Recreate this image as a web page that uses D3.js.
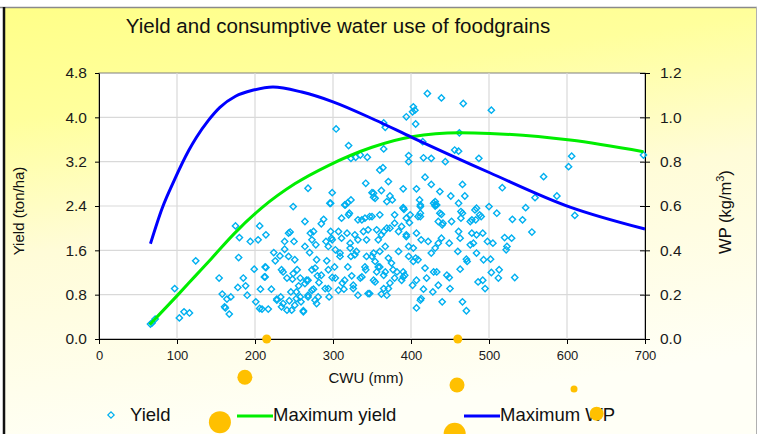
<!DOCTYPE html>
<html>
<head>
<meta charset="utf-8">
<script src="https://cdn.jsdelivr.net/npm/d3@7"></script>
<style>
  body { margin: 0; background: #fff; }
  svg { display: block; font-family: "Liberation Sans", Arial, sans-serif; }
</style>
</head>
<body>
<svg id="chart" width="757" height="434"></svg>
<script>
/* Yield vs consumptive water use (CWU) of foodgrains.
   Scatter of observed yields plus two fitted envelopes:
   maximum yield (left axis) and maximum water productivity (right axis). */
const WIDTH = 757;
const HEIGHT = 434;
const PLOT = {left: 99, right: 645, top: 73, bottom: 339};
const colors = {
    yield: '#00b0f0',
    maxYield: '#00ee00',
    maxWp: '#0000ff',
    grid: '#d9d9d9',
    dot: '#ffc000'
};

const xTicks = [0, 100, 200, 300, 400, 500, 600, 700];
const yieldTicks = [0, 0.8, 1.6, 2.4, 3.2, 4.0, 4.8];
const wpTicks = [0, 0.2, 0.4, 0.6, 0.8, 1.0, 1.2];

// observed [CWU mm, yield ton/ha]
const yieldObs = [
    [66,0.27],[68,0.29],[72,0.36],[97,0.91],[103,0.38],[109,0.49],[116,0.47],[124,1.41],
    [154,1.10],[158,0.81],[161,0.58],[162,0.56],[164,0.72],[167,0.45],[169,0.76],[175,2.04],
    [179,1.47],[180,1.83],[178,0.93],[185,1.10],[188,0.96],[190,0.79],[194,1.76],[199,1.26],
    [201,0.67],[204,1.79],[206,2.04],[207,0.90],[209,0.54],[212,1.12],[214,1.29],[214,1.88],
    [217,0.54],[221,0.90],[224,1.56],[226,1.41],[228,0.72],[232,1.50],[233,0.76],[234,0.58],
    [236,1.21],[238,1.62],[238,1.76],[241,0.52],[243,1.91],[244,0.69],[246,0.85],[248,1.08],
    [249,2.39],[250,1.76],[251,1.43],[253,0.73],[254,1.25],[256,0.96],[259,0.67],[262,0.51],
    [264,2.12],[264,1.67],[266,1.06],[268,0.79],[270,1.56],[271,1.91],[273,1.25],[275,1.94],
    [275,0.90],[277,0.70],[278,1.70],[279,1.43],[280,1.14],[282,1.02],[285,2.08],[288,2.16],
    [291,1.76],[292,1.41],[294,0.91],[295,0.76],[296,2.45],[297,1.94],[299,1.79],[299,1.11],
    [302,1.30],[303,1.61],[307,1.94],[309,1.55],[311,2.18],[312,1.01],[314,0.90],[316,2.42],
    [318,1.91],[319,1.30],[321,2.27],[322,1.73],[323,1.49],[324,1.14],[326,0.91],[328,1.88],
    [330,1.58],[332,0.79],[335,1.10],[337,2.15],[339,1.94],[341,1.30],[343,1.79],[345,0.82],
    [347,2.21],[350,1.49],[352,1.06],
    [304,3.79],[320,3.49],[323,3.26],[329,3.28],[335,3.32],[344,3.28],[268,2.72],[299,2.64],
    [297,2.45],[315,2.42],[319,2.46],[323,2.51],[342,2.81],[350,2.64],[352,2.56],
    [421,4.43],[439,4.35],[467,4.25],[503,4.13],[403,4.19],[405,4.13],[402,4.10],[394,4.01],
    [406,3.88],[365,3.90],[367,3.82],[365,3.43],[462,3.72],[415,3.56],[397,3.31],[397,3.20],
    [416,3.27],[426,3.26],[444,3.20],[456,3.41],[461,3.39],[487,3.26],[606,3.30],[602,3.11],
    [698,3.32],[570,2.93],[517,2.73],[559,2.55],[587,2.58],[360,3.05],[364,3.09],[371,2.84],
    [362,2.68],[352,2.63],[354,2.54],[373,2.58],[376,2.51],[369,2.48],[390,2.71],[407,2.71],
    [418,2.92],[426,2.79],[411,2.51],[437,2.66],[451,2.58],[466,2.79],[469,2.58],[429,2.45],
    [461,2.45],[431,2.40],[412,2.42],[390,2.37],[484,2.36],[500,2.39],[547,2.37],
    [610,2.23],[555,1.93],[543,2.15],[533,1.11],[520,1.83],[529,1.82],[523,1.67],[522,1.61],
    [513,1.25],[512,1.10],[503,1.20],[495,0.91],[492,1.06],[486,1.03],[502,1.44],[493,1.43],
    [484,1.55],[505,1.73],[498,1.76],[492,1.91],[484,1.88],[480,1.73],[476,1.70],[478,1.91],
    [510,2.27],[488,2.24],[483,2.15],[476,2.12],[466,2.27],[464,2.18],[461,1.94],[463,1.82],
    [460,1.58],[471,1.44],[472,1.40],[463,1.26],[466,0.67],[471,0.51],[450,0.91],[449,1.11],
    [446,1.15],[440,0.67],[435,0.97],[433,1.21],[429,1.21],[428,0.85],[416,0.90],[420,1.10],
    [413,0.73],[412,0.70],[407,0.56],[402,0.97],[407,1.06],[418,1.28],[409,1.43],[406,1.46],
    [403,1.40],[397,1.49],[403,1.64],[397,1.67],[422,1.76],[413,1.79],[407,1.91],[394,1.88],
    [439,1.82],[435,1.73],[431,1.64],[426,1.55],[449,1.73],[452,2.12],[440,2.06],[435,2.12],
    [437,2.27],[431,2.42],[412,2.27],[412,2.21],[399,2.24],[390,2.36],[379,2.24],[379,2.09],
    [388,2.03],[373,2.00],[365,1.94],[356,1.97],[367,1.67],[358,1.79],[352,1.55],[354,1.40],
    [360,1.30],[375,1.37],[377,1.25],[367,1.21],[356,1.21],[379,1.10],[390,1.12],[373,1.01],
    [365,0.91],[369,0.79],[362,0.81],[347,0.82],[390,1.21],
    [431,2.48],[433,2.42],[530,2.16],[391,2.34],[412,2.39],[409,2.21],[439,2.25],[464,2.30],
    [482,2.33],[478,2.15],[490,2.21],[441,2.09],[394,2.18],
    [320,2.24],[332,2.15],[341,2.18],[350,2.21],[360,2.24],[398,2.10],
    [245,1.93],[273,1.79],[298,1.82],[311,1.82],[332,1.79],[345,1.97],[362,1.88],[369,2.00],
    [384,1.94],[394,1.85],[243,1.49],[294,1.67],[309,1.49],[322,1.64],[328,1.52],[343,1.49],
    [360,1.58],[371,1.46],[384,1.58],[213,1.30],[213,1.12],[234,1.25],[241,1.10],[249,1.18],
    [258,1.10],[264,1.00],[268,1.06],[253,0.85],[273,0.88],[281,0.76],[277,1.28],[285,1.15],
    [294,1.25],[290,0.91],[303,1.10],[307,0.88],[315,1.06],[326,0.97],[337,1.12],[342,1.25],
    [354,1.03],[358,1.30],[365,1.15],[371,0.91],[382,1.21],[388,1.06],[392,1.15],[206,0.55],
    [228,0.70],[236,0.64],[247,0.52],[251,0.61],[262,0.49],[258,0.76],[268,0.76],[279,0.64]
];

// fitted envelopes [CWU mm, value]
const maxYieldCurve = [
    [65,0.26],[102,0.81],[123,1.13],[144,1.45],[174,1.91],[209,2.37],[251,2.80],
    [294,3.13],[350,3.46],[401,3.65],[462,3.72],[501,3.71],[604,3.59],[698,3.38]
];
const maxWpCurve = [
    [66,0.43],[81,0.59],[97,0.72],[115,0.85],[125,0.91],[140,0.985],[155,1.045],[175,1.095],
    [198,1.123],[223,1.137],[260,1.114],[300,1.07],[354,0.988],[401,0.91],[501,0.75],
    [604,0.595],[700,0.496]
];

// slide decoration: orange bullets [CWU mm, yield, radius]
const orangeDots = [
    [215,0,4.5],[460,0,4.5],[187,-0.69,7.5],[459,-0.83,7.5],
    [609,-0.90,3.5],[638,-1.35,7],[155,-1.50,11],[456,-1.71,11]
];

const svg = d3.select('#chart');

// background: yellow slide gradient with frame
const defs = svg.append('defs');
const grad = defs.append('linearGradient')
    .attr('id', 'bg').attr('x1', 0).attr('y1', 0).attr('x2', 0.25).attr('y2', 1);
grad.append('stop').attr('offset', '0%').attr('stop-color', '#ffff88');
grad.append('stop').attr('offset', '25%').attr('stop-color', '#ffff9c');
grad.append('stop').attr('offset', '55%').attr('stop-color', '#fffcd8');
grad.append('stop').attr('offset', '100%').attr('stop-color', '#fffff6');

svg.append('rect').attr('width', WIDTH).attr('height', HEIGHT).attr('fill', '#fff');
svg.append('rect').attr('x', 5).attr('y', 8).attr('width', WIDTH - 6).attr('height', HEIGHT - 8)
    .attr('fill', 'url(#bg)');
svg.append('line').attr('x1', 0).attr('x2', WIDTH).attr('y1', 7.5).attr('y2', 7.5)
    .attr('stroke', '#8a8a8a').attr('stroke-width', 1.5);
svg.append('line').attr('x1', 4).attr('x2', 4).attr('y1', 7).attr('y2', HEIGHT)
    .attr('stroke', '#111').attr('stroke-width', 2.5);
svg.append('line').attr('x1', WIDTH - 0.5).attr('x2', WIDTH - 0.5).attr('y1', 7).attr('y2', HEIGHT)
    .attr('stroke', '#b0b0b0').attr('stroke-width', 1);

// scales
const x = d3.scaleLinear().domain([0, 700]).range([PLOT.left, PLOT.right]);
const yLeft = d3.scaleLinear().domain([0, 4.8]).range([PLOT.bottom, PLOT.top]);
const yRight = d3.scaleLinear().domain([0, 1.2]).range([PLOT.bottom, PLOT.top]);

// plot area + grid
svg.append('rect')
    .attr('x', PLOT.left).attr('y', PLOT.top)
    .attr('width', PLOT.right - PLOT.left).attr('height', PLOT.bottom - PLOT.top)
    .attr('fill', '#fff').attr('stroke', '#808080');
svg.append('g').selectAll('line').data(xTicks.slice(1, -1)).join('line')
    .attr('x1', d => x(d)).attr('x2', d => x(d))
    .attr('y1', PLOT.top).attr('y2', PLOT.bottom)
    .attr('stroke', colors.grid).attr('stroke-width', 1.2);
svg.append('g').selectAll('line').data(yieldTicks.slice(1, -1)).join('line')
    .attr('x1', PLOT.left).attr('x2', PLOT.right)
    .attr('y1', d => yLeft(d)).attr('y2', d => yLeft(d))
    .attr('stroke', colors.grid).attr('stroke-width', 1.2);

// axes
function styleAxis(size) {
    return g => {
        g.selectAll('path, line').attr('stroke', '#000');
        g.selectAll('text').attr('font-size', size).attr('fill', '#1a1a1a')
            .attr('font-family', '"Liberation Sans", Arial, sans-serif');
    };
}
svg.append('g')
    .attr('transform', `translate(${PLOT.left},0)`)
    .call(d3.axisLeft(yLeft).tickValues(yieldTicks).tickFormat(d3.format('.1f'))
        .tickSize(4).tickSizeOuter(0).tickPadding(8))
    .call(styleAxis(15.5));
const rightAxis = svg.append('g')
    .attr('transform', `translate(${PLOT.right},0)`)
    .call(d3.axisRight(yRight).tickValues(wpTicks).tickFormat(d3.format('.1f'))
        .tickSize(5).tickSizeOuter(0).tickPadding(10))
    .call(styleAxis(15.5));
rightAxis.selectAll('.tick line').attr('x1', -5);
svg.append('g')
    .attr('transform', `translate(0,${PLOT.bottom})`)
    .call(d3.axisBottom(x).tickValues(xTicks).tickSize(5).tickSizeOuter(0).tickPadding(7))
    .call(styleAxis(13));

// scatter
const diamond = d3.symbol().type(d3.symbolSquare).size(20);
svg.append('g').selectAll('path').data(yieldObs).join('path')
    .attr('d', diamond)
    .attr('transform', d => `translate(${x(d[0])},${yLeft(d[1])}) rotate(45)`)
    .attr('fill', 'none').attr('stroke', colors.yield).attr('stroke-width', 1.4);

// fitted lines
const lineYield = d3.line().x(d => x(d[0])).y(d => yLeft(d[1])).curve(d3.curveMonotoneX);
const lineWp = d3.line().x(d => x(d[0])).y(d => yRight(d[1])).curve(d3.curveMonotoneX);
svg.append('path').datum(maxYieldCurve).attr('d', lineYield)
    .attr('fill', 'none').attr('stroke', colors.maxYield).attr('stroke-width', 3);
svg.append('path').datum(maxWpCurve).attr('d', lineWp)
    .attr('fill', 'none').attr('stroke', colors.maxWp).attr('stroke-width', 3);

// titles
svg.append('text').attr('x', 338).attr('y', 33).attr('text-anchor', 'middle')
    .attr('font-size', 20.5).attr('fill', '#111')
    .text('Yield and consumptive water use of foodgrains');
svg.append('text').attr('transform', 'translate(24,211) rotate(-90)').attr('text-anchor', 'middle')
    .attr('font-size', 15).attr('fill', '#111').text('Yield (ton/ha)');
const wpLabel = svg.append('text').attr('transform', 'translate(731,212) rotate(-90)')
    .attr('text-anchor', 'middle').attr('font-size', 16.5).attr('fill', '#111');
wpLabel.append('tspan').text('WP (kg/m');
wpLabel.append('tspan').attr('font-size', 11).attr('dy', -7).text('3');
wpLabel.append('tspan').attr('dy', 7).text(')');
svg.append('text').attr('x', 366).attr('y', 383).attr('text-anchor', 'middle')
    .attr('font-size', 15).attr('fill', '#111').text('CWU (mm)');

// legend
const legend = svg.append('g').attr('font-size', 18.5).attr('fill', '#111');
legend.append('path').attr('d', diamond).attr('transform', 'translate(111,415) rotate(45)')
    .attr('fill', 'none').attr('stroke', colors.yield).attr('stroke-width', 1.2);
legend.append('text').attr('x', 130).attr('y', 421).text('Yield');
legend.append('line').attr('x1', 237).attr('x2', 273).attr('y1', 416).attr('y2', 416)
    .attr('stroke', colors.maxYield).attr('stroke-width', 3);
legend.append('text').attr('x', 273).attr('y', 421).text('Maximum yield');
legend.append('line').attr('x1', 464).attr('x2', 500).attr('y1', 416).attr('y2', 416)
    .attr('stroke', colors.maxWp).attr('stroke-width', 3);
legend.append('text').attr('x', 500).attr('y', 421).text('Maximum WP');

// orange bullets drawn over everything
svg.append('g').selectAll('circle').data(orangeDots).join('circle')
    .attr('cx', d => x(d[0])).attr('cy', d => yLeft(d[1])).attr('r', d => d[2])
    .attr('fill', colors.dot);
</script>
</body>
</html>
